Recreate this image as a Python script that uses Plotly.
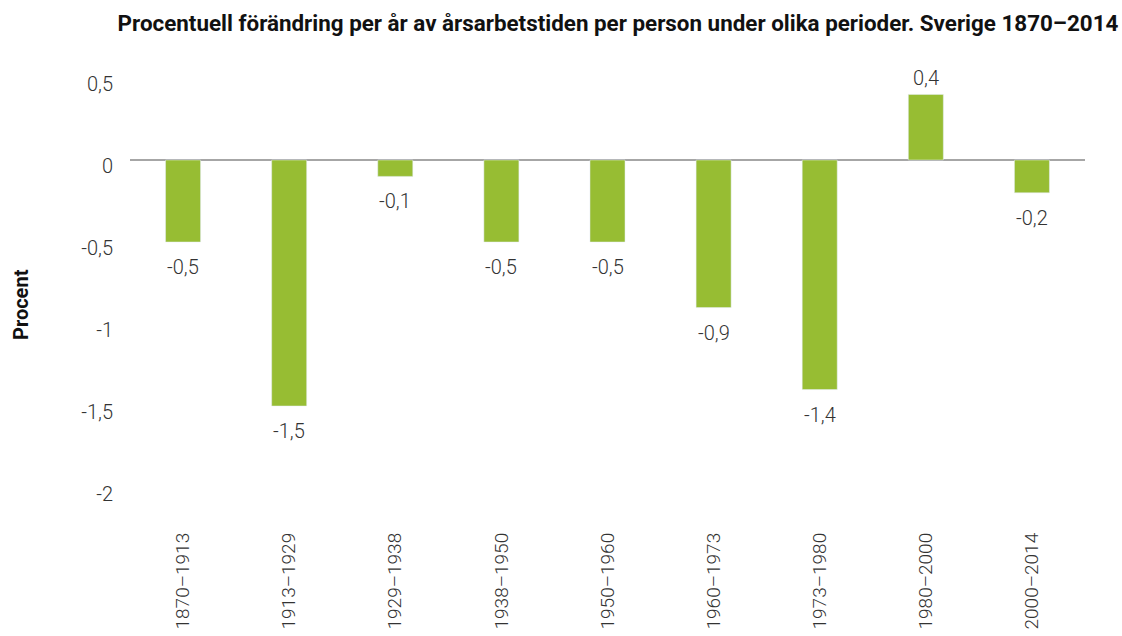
import plotly.graph_objects as go

categories = ["1870–1913", "1913–1929", "1929–1938", "1938–1950", "1950–1960",
              "1960–1973", "1973–1980", "1980–2000", "2000–2014"]
values = [-0.5, -1.5, -0.1, -0.5, -0.5, -0.9, -1.4, 0.4, -0.2]
y_ticks = [0.5, 0, -0.5, -1, -1.5, -2]
y_tick_text = ["0,5", "0", "-0,5", "-1", "-1,5", "-2"]

title_text = "Procentuell förändring per år av årsarbetstiden per person under olika perioder. Sverige 1870–2014"
y_title = "Procent"
bar_color = "#97BD33"
text_color = "#333333"

L, R, T, B = 130, 37, 78, 148
W, H = 1122, 636
plot_w = W - L - R
plot_h = H - T - B

fig = go.Figure()
fig.add_trace(go.Bar(x=categories, y=values, marker_color=bar_color, width=0.33,
                     hoverinfo="x+y"))

annotations = []
for c, v in zip(categories, values):
    annotations.append(dict(
        x=c, y=v, xref="x", yref="y",
        text=f"{v:.1f}".replace(".", ","),
        showarrow=False,
        yshift=-25 if v < 0 else 16,
        font=dict(family="Roboto", size=20, color=text_color, weight=300),
    ))
annotations.append(dict(
    x=(21 - L) / plot_w, y=1 - (305 - T) / plot_h, xref="paper", yref="paper",
    text=f"<b>{y_title}</b>", textangle=-90, showarrow=False,
    xanchor="center", yanchor="middle",
    font=dict(family="Roboto", size=20, color="#111111"),
))

fig.update_layout(
    width=W, height=H,
    paper_bgcolor="white", plot_bgcolor="white",
    margin=dict(l=L, r=R, t=T, b=B, autoexpand=False),
    title=dict(text=title_text, x=618 / W, xanchor="center", y=1 - 23 / H, yanchor="middle",
               automargin=False,
               font=dict(family="Roboto", size=22.4, color="#111111", weight="bold")),
    showlegend=False,
    annotations=annotations,
    xaxis=dict(
        showgrid=False, showline=False, zeroline=False, ticks="", automargin=False,
        tickangle=-90, ticklabelstandoff=40,
        tickfont=dict(family="Roboto", size=19, color=text_color, weight=300),
    ),
    yaxis=dict(
        range=[-2, 0.5], tickvals=y_ticks, ticktext=y_tick_text, automargin=False,
        showgrid=False, showline=False, zeroline=True, zerolinecolor="#A6A6A6",
        zerolinewidth=2, ticks="", ticklabelstandoff=16, ticklabelshift=6,
        tickfont=dict(family="Roboto", size=20, color=text_color, weight=300),
    ),
)

fig.write_html("out.html", config={"displayModeBar": False},
               post_script="document.body.style.margin='0';")
